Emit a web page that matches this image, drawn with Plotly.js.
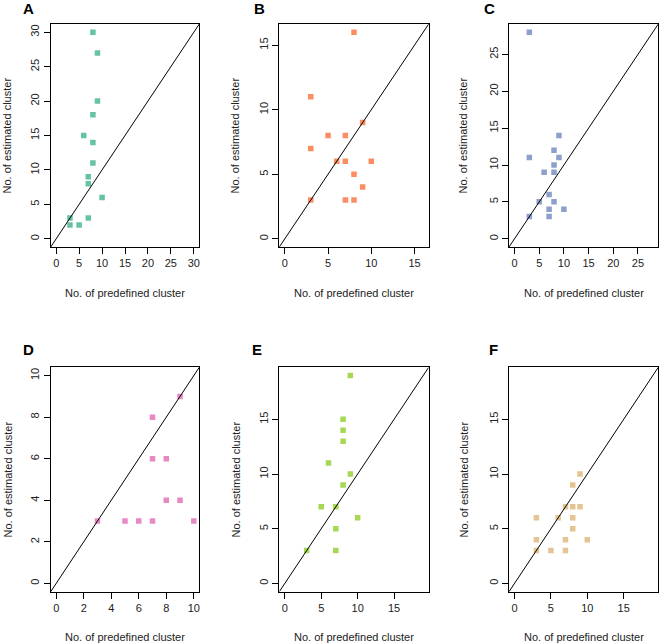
<!DOCTYPE html>
<html>
<head>
<meta charset="utf-8">
<script src="https://cdn.plot.ly/plotly-3.0.1.min.js"></script>
<style>
  html, body { margin: 0; padding: 0; background: #fff; }
  #chart { width: 660px; height: 644px; }
</style>
</head>
<body>
<div id="chart"></div>
<script>
// Panel data: predefined (x) vs estimated (y) cluster counts
const aPredefined = [8, 9, 9, 8, 6, 8, 8, 7, 7, 10, 7, 3, 3, 5];
const aEstimated  = [30, 27, 20, 18, 15, 14, 11, 9, 8, 6, 3, 3, 2, 2];

const bPredefined = [8, 3, 9, 5, 7, 3, 6, 7, 10, 8, 9, 3, 7, 8];
const bEstimated  = [16, 11, 9, 8, 8, 7, 6, 6, 6, 5, 4, 3, 3, 3];

const cPredefined = [3, 9, 8, 3, 9, 8, 6, 8, 7, 5, 8, 7, 10, 3, 7];
const cEstimated  = [28, 14, 12, 11, 11, 10, 9, 9, 6, 5, 5, 4, 4, 3, 3];

const dPredefined = [9, 7, 7, 8, 8, 9, 3, 5, 6, 7, 10];
const dEstimated  = [9, 8, 6, 6, 4, 4, 3, 3, 3, 3, 3];

const ePredefined = [9, 8, 8, 8, 6, 9, 8, 5, 7, 10, 7, 3, 7];
const eEstimated  = [19, 15, 14, 13, 11, 10, 9, 7, 7, 6, 5, 3, 3];

const fPredefined = [9, 8, 7, 8, 9, 3, 6, 8, 8, 3, 7, 10, 3, 5, 7];
const fEstimated  = [10, 9, 7, 7, 7, 6, 6, 6, 5, 4, 4, 4, 3, 3, 3];

const panelLetters = ['A', 'B', 'C', 'D', 'E', 'F'];
const panelColors = ['#66C2A5', '#FC8D62', '#8DA0CB', '#E78AC3', '#A6D854', '#E5C494'];
const axisMax = [30, 16, 28, 10, 19, 19];
const tickStep = [5, 5, 5, 2, 5, 5];
const tickMax = [30, 15, 25, 10, 15, 15];

const xTitle = 'No. of predefined cluster';
const yTitle = 'No. of estimated cluster';

const W = 660, H = 644;
// plot boxes in pixels: [left, right, top, bottom]
const boxes = [
    [50.7, 199.3, 24, 247],
    [279.3, 428.7, 24, 247],
    [509, 658.3, 24, 247],
    [50.7, 199.3, 367.3, 591.7],
    [279.3, 428.7, 367.3, 591.7],
    [509, 658.3, 367.3, 591.7]
];
const yTitleX = [7, 235, 463, 7, 235, 463];
const letterPos = [[28, 8], [259, 8], [489, 8], [28, 349], [257, 349], [493, 349]];
const xTitleY = [293, 293, 293, 637, 637, 637];

const panels = [
    [aPredefined, aEstimated],
    [bPredefined, bEstimated],
    [cPredefined, cEstimated],
    [dPredefined, dEstimated],
    [ePredefined, eEstimated],
    [fPredefined, fEstimated]
];

const font = { family: '"Liberation Sans", Arial, sans-serif', size: 11, color: '#222' };
const data = [];
const layout = {
    width: W, height: H,
    margin: { l: 0, r: 0, t: 0, b: 0 },
    paper_bgcolor: '#fff',
    plot_bgcolor: '#fff',
    showlegend: false,
    font: font,
    annotations: []
};

panels.forEach(function(p, i) {
    const n = i === 0 ? '' : String(i + 1);
    const box = boxes[i];
    const pad = axisMax[i] * 0.04;
    const range = [-pad, axisMax[i] + pad];
    const ticks = [];
    for (let t = 0; t <= tickMax[i]; t += tickStep[i]) ticks.push(t);

    data.push({
        x: p[0], y: p[1],
        xaxis: 'x' + n, yaxis: 'y' + n,
        type: 'scatter', mode: 'markers',
        marker: { symbol: 'square', size: 5.5, color: panelColors[i], line: { width: 0 } },
        hoverinfo: 'x+y'
    });
    // y = x reference line
    data.push({
        x: range, y: range,
        xaxis: 'x' + n, yaxis: 'y' + n,
        type: 'scatter', mode: 'lines',
        line: { color: '#000', width: 1 },
        hoverinfo: 'skip'
    });

    const common = {
        range: range,
        showgrid: false, zeroline: false,
        showline: true, mirror: true, linecolor: '#000', linewidth: 1,
        ticks: 'outside', ticklen: 6, tickwidth: 1, tickcolor: '#000',
        tickmode: 'array', tickvals: ticks, ticktext: ticks.map(String),
        tickfont: font, fixedrange: true
    };
    layout['xaxis' + n] = Object.assign({}, common, {
        domain: [box[0] / W, box[1] / W],
        anchor: 'y' + n
    });
    layout['yaxis' + n] = Object.assign({}, common, {
        domain: [1 - box[3] / H, 1 - box[2] / H],
        anchor: 'x' + n,
        tickangle: -90
    });

    layout.annotations.push({
        text: xTitle, xref: 'paper', yref: 'paper',
        x: (box[0] + box[1]) / 2 / W, y: 1 - xTitleY[i] / H,
        xanchor: 'center', yanchor: 'middle', showarrow: false, font: font
    });
    layout.annotations.push({
        text: yTitle, xref: 'paper', yref: 'paper', textangle: -90,
        x: yTitleX[i] / W, y: 1 - (box[2] + box[3]) / 2 / H,
        xanchor: 'center', yanchor: 'middle', showarrow: false, font: font
    });
    layout.annotations.push({
        text: '<b>' + panelLetters[i] + '</b>', xref: 'paper', yref: 'paper',
        x: letterPos[i][0] / W, y: 1 - letterPos[i][1] / H,
        xanchor: 'center', yanchor: 'middle', showarrow: false,
        font: { family: font.family, size: 15, color: '#000' }
    });
});

Plotly.newPlot('chart', data, layout, { displayModeBar: false, staticPlot: true });
</script>
</body>
</html>
